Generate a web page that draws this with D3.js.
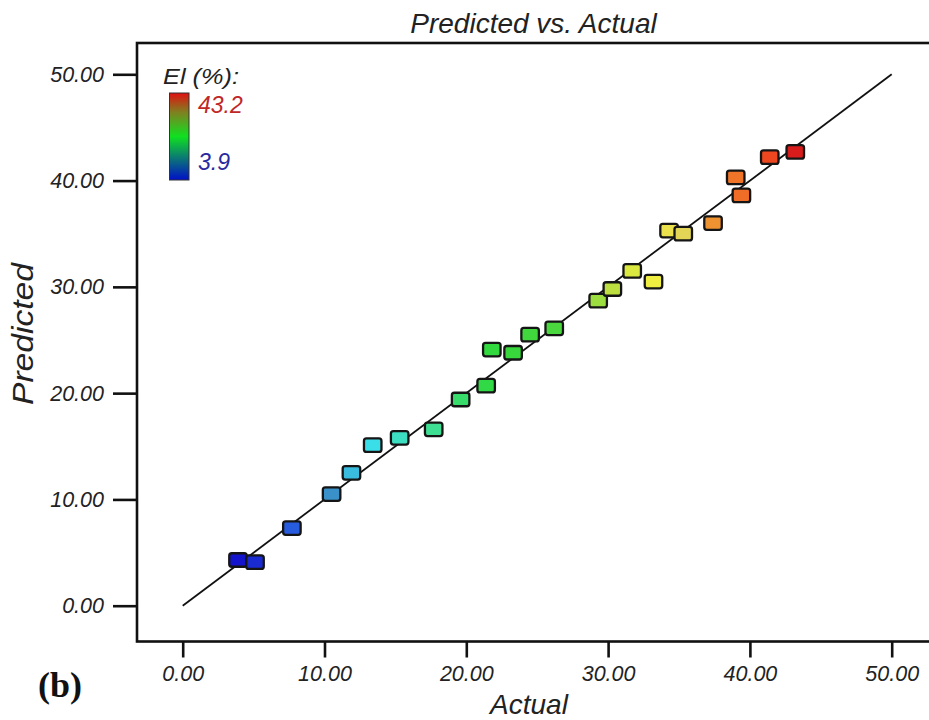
<!DOCTYPE html>
<html>
<head>
<meta charset="utf-8">
<script src="https://cdn.jsdelivr.net/npm/d3@7"></script>
<style>
  html, body { margin: 0; padding: 0; background: #fff; overflow: hidden; }
  svg { display: block; }
</style>
</head>
<body>
<svg id="chart" width="929" height="720"></svg>
<script>
// Elongation at break (El, %): measured vs. model-predicted values
const actual    = [3.9, 5.1, 7.7, 10.5, 11.9, 13.4, 15.3, 17.7, 19.6, 21.4, 21.8, 23.3, 24.5,
                   26.2, 29.3, 30.3, 31.7, 33.2, 34.3, 35.3, 37.4, 39.0, 39.4, 41.4, 43.2];
const predicted = [4.3, 4.1, 7.3, 10.5, 12.5, 15.1, 15.8, 16.6, 19.4, 20.7, 24.1, 23.8, 25.5,
                   26.1, 28.7, 29.8, 31.5, 30.5, 35.3, 35.0, 36.0, 40.3, 38.6, 42.2, 42.7];
const ticks = [0, 10, 20, 30, 40, 50];
const elRange = [3.9, 43.2];

const SANS = "'Liberation Sans', Arial, sans-serif";
const SERIF = "'Liberation Serif', 'Times New Roman', serif";

const svg = d3.select("#chart");

const x = d3.scaleLinear().domain([0, 50]).range([182.7, 891.7]);
const y = d3.scaleLinear().domain([0, 50]).range([605.7, 74.3]);

// point colours follow a jet-like ramp over the El range
const colorStops = [3.9, 8, 10.5, 13, 17, 22, 27, 30.5, 33, 35.5, 37.5, 41, 43.2];
const colorVals  = ["#1414cc", "#2a62e0", "#3a90c8", "#38def0", "#40e0a0", "#30d83a",
                    "#50d840", "#c4e040", "#f2f040", "#e2d458", "#f09030", "#f05020", "#d81c1c"];
const color = d3.scaleLinear().domain(colorStops).range(colorVals).clamp(true);

const plot = { left: 137, top: 43, bottom: 641.5, right: 945 };

// frame of the plotting area
svg.append("rect")
  .attr("x", plot.left).attr("y", plot.top)
  .attr("width", plot.right - plot.left).attr("height", plot.bottom - plot.top)
  .attr("fill", "none").attr("stroke", "#111").attr("stroke-width", 2.6);

function styleTicks(g) {
  g.select(".domain").remove();
  g.selectAll(".tick line").attr("stroke", "#111").attr("stroke-width", 2.6);
  g.selectAll(".tick text")
    .style("font-family", SANS).style("font-size", "21.5px").style("font-style", "italic")
    .attr("fill", "#222");
}

// y axis
const yAxis = d3.axisLeft(y).tickValues(ticks).tickSize(24).tickPadding(9)
  .tickFormat(d3.format(".2f"));
svg.append("g").attr("transform", `translate(${plot.left},0)`).call(yAxis).call(styleTicks);

// x axis
const xAxis = d3.axisBottom(x).tickValues(ticks).tickSize(16).tickPadding(8)
  .tickFormat(d3.format(".2f"));
svg.append("g").attr("transform", `translate(0,${plot.bottom})`).call(xAxis).call(styleTicks);

// line of perfect agreement
svg.append("line")
  .attr("x1", x(0)).attr("y1", y(0)).attr("x2", x(50)).attr("y2", y(50))
  .attr("stroke", "#111").attr("stroke-width", 1.8);

// data points
const pts = actual.map((a, i) => ({ a, p: predicted[i] }));
svg.append("g").selectAll("rect").data(pts).join("rect")
  .attr("x", d => x(d.a) - 8.75).attr("y", d => y(d.p) - 6.75)
  .attr("width", 17.5).attr("height", 13.5).attr("rx", 2.5)
  .attr("fill", d => color(d.a))
  .attr("stroke", "#151515").attr("stroke-width", 2.3);

// title and axis labels
function label(sel, size) {
  return sel.style("font-family", SANS).style("font-size", size + "px")
    .style("font-style", "italic").attr("fill", "#222");
}
label(svg.append("text"), 28).attr("x", 533.5).attr("y", 33).attr("text-anchor", "middle")
  .text("Predicted vs. Actual");
label(svg.append("text"), 28).attr("x", 529).attr("y", 714).attr("text-anchor", "middle")
  .text("Actual");
label(svg.append("text"), 30).attr("transform", "translate(33,334) rotate(-90)")
  .attr("text-anchor", "middle")
  .attr("textLength", 142).attr("lengthAdjust", "spacingAndGlyphs")
  .text("Predicted");

// panel tag
svg.append("text").attr("x", 38).attr("y", 697)
  .style("font-family", SERIF).style("font-size", "36px").style("font-weight", "bold")
  .attr("fill", "#111")
  .text("(b)");

// colour legend
const defs = svg.append("defs");
const grad = defs.append("linearGradient").attr("id", "elGrad")
  .attr("x1", 0).attr("y1", 1).attr("x2", 0).attr("y2", 0);
[[0, "#0010c8"], [0.22, "#0a6a80"], [0.5, "#10e020"], [0.78, "#808020"], [1, "#e01010"]]
  .forEach(([o, c]) => grad.append("stop").attr("offset", o).attr("stop-color", c));

label(svg.append("text"), 22).attr("x", 163).attr("y", 84)
  .attr("textLength", 76).attr("lengthAdjust", "spacingAndGlyphs")
  .text("El (%):");
svg.append("rect").attr("x", 169.5).attr("y", 93).attr("width", 19.5).attr("height", 87)
  .attr("fill", "url(#elGrad)").attr("stroke", "#333").attr("stroke-width", 1);
label(svg.append("text"), 23).attr("x", 198).attr("y", 113).attr("fill", "#c02828")
  .text(d3.format(".1f")(elRange[1]));
label(svg.append("text"), 23).attr("x", 198).attr("y", 170).attr("fill", "#2a2aa0")
  .text(d3.format(".1f")(elRange[0]));
</script>
</body>
</html>
